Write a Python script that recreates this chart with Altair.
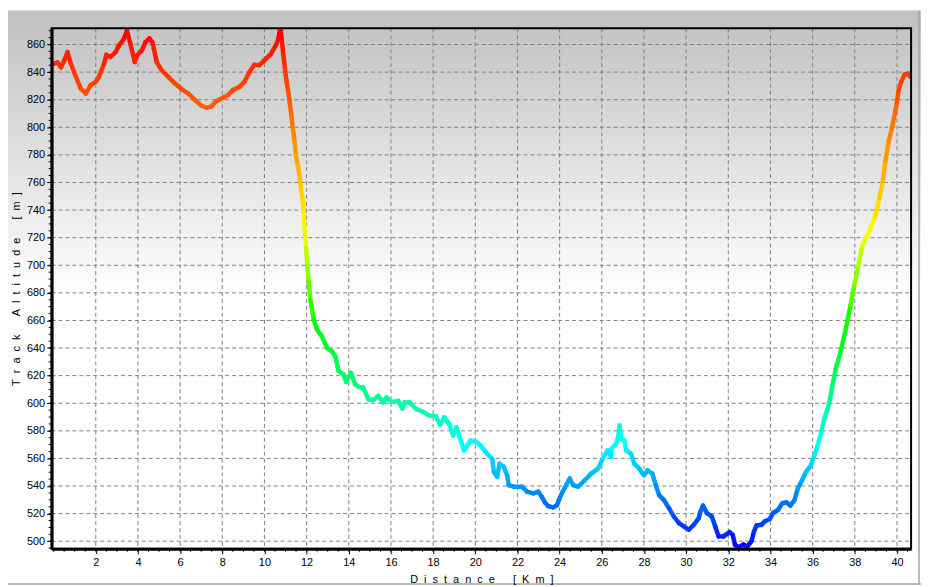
import altair as alt
import pandas as pd

# ---- data ----
distance_km = [0.00,0.19,0.35,0.51,0.66,0.82,1.06,1.29,1.53,1.76,2.00,2.15,2.39,2.50,2.70,2.94,3.09,3.33,3.48,3.64,
    3.85,3.95,4.19,4.35,4.54,4.69,4.89,5.13,5.44,5.76,6.07,6.38,6.70,7.01,7.25,7.48,7.72,8.03,8.27,8.50,
    8.82,9.05,9.29,9.52,9.76,9.99,10.30,10.54,10.66,10.76,10.83,10.90,10.97,11.04,11.13,11.20,11.27,11.35,11.43,11.49,
    11.59,11.68,11.74,11.82,11.86,11.91,11.98,12.03,12.10,12.18,12.34,12.50,12.73,12.97,13.20,13.36,13.52,13.75,13.88,14.10,
    14.30,14.46,14.69,14.93,15.16,15.40,15.63,15.79,16.02,16.34,16.54,16.65,16.88,17.20,17.51,17.82,18.14,18.33,18.53,18.76,
    18.95,19.11,19.23,19.47,19.63,19.78,20.02,20.25,20.49,20.80,20.88,21.04,21.15,21.35,21.51,21.59,21.82,22.21,22.45,22.76,
    22.99,23.15,23.31,23.45,23.69,23.87,24.01,24.15,24.29,24.48,24.64,24.88,25.19,25.50,25.82,26.05,26.28,26.44,26.47,26.68,
    26.76,26.84,26.92,27.07,27.15,27.39,27.54,27.78,27.93,28.01,28.17,28.40,28.56,28.72,28.95,29.19,29.42,29.66,29.89,30.13,
    30.36,30.60,30.68,30.80,30.99,31.22,31.38,31.54,31.77,32.06,32.21,32.32,32.48,32.71,32.90,33.10,33.22,33.34,33.57,33.73,
    33.97,34.12,34.36,34.56,34.75,34.94,35.14,35.30,35.50,35.69,35.92,36.08,36.24,36.39,36.55,36.71,36.82,36.95,37.09,37.33,
    37.56,37.80,37.98,38.17,38.36,38.59,38.73,38.97,39.17,39.33,39.45,39.61,39.76,39.92,40.00,40.08,40.20,40.36,40.55,40.63]

altitude_m = [846,847,843.5,848.5,854.5,846,836.5,828,824.5,830.5,833,836.5,846,852.5,851,854.5,859,864,870,860.5,
    847.3,852,855.7,861.6,864.5,861.6,847.3,841.3,836.5,831.7,827.7,824.5,819.8,815.7,814.2,815,819,821.4,823.3,827,
    829.3,833,840,845.3,845,848.5,853,859.3,864,873,862,852,843,834,826,818,809,799,790,780,
    772,763,754,747,738,725,712,700,688,675,660.4,653.2,648.4,640,637.6,634,623.3,620.9,615.4,622.1,
    613.7,612,611.3,602.9,602.4,605.3,600.6,604.2,601,601.7,596.3,600.6,600.6,595.8,593.8,591,590.5,584.3,589.8,585,
    576.6,582.6,576.6,565.8,569.4,573,572.3,569.4,564.6,559.8,550.3,546.7,556.2,553.9,547.8,540.6,539.5,539.5,535.9,534.7,
    535.9,532.3,528,525.5,524.5,526,531.6,536,540,545.5,540.6,539.5,544.2,549,552.6,560,565.8,561,567,570.6,
    574.2,583.8,574.2,573,565.8,563.4,556.2,552.6,549,547.8,551.4,549,540.6,533.4,529.8,523.9,517.9,513.1,510.7,508.3,
    511.9,516.7,521.5,525.8,520.3,517.9,510.7,503.5,503.5,506.6,504.6,497.5,495.6,497.5,496.3,500,507.1,511.4,511.9,514.3,
    516.2,520.3,522.7,527.5,528.2,525.8,529.8,538.3,544.2,550.3,555,562.2,569.4,577.8,588.6,595.8,602.9,613.7,624.5,637.4,
    653,671,685.6,700,714.4,721.6,726,736,749,761,775.4,789.8,799.3,811.3,818.5,826.9,832.9,838.2,838.9,836.5]

x_ticks = list(range(2, 41, 2))
y_ticks = list(range(500, 861, 20))
x_minor = [i * 0.5 for i in range(0, 82)]
y_minor = list(range(495, 871, 5))

color_stops = [497, 570, 655, 725, 870]
color_range = ["#0008ff", "#00ffff", "#00ff00", "#ffff00", "#ff0000"]

W, H = 867, 525
FONT = "Liberation Sans"
NB = "\u00a0"

def spaced(words, gap=6, letter_gap=2):
    return (NB * gap).join((NB * letter_gap).join(list(w)) for w in words)

x_title = spaced(["Distance", "[Km]"])
y_title = spaced(["Track", "Altitude", "[m]"])

seg = pd.DataFrame({
    "d0": distance_km[:-1], "d1": distance_km[1:],
    "a0": altitude_m[:-1], "a1": altitude_m[1:],
})
seg["c"] = (seg["a0"] + seg["a1"]) / 2

xscale = alt.Scale(domain=[-0.094, 40.67], nice=False, zero=False)
yscale = alt.Scale(domain=[494.5, 871.7], nice=False, zero=False)

xaxis = alt.Axis(values=x_ticks, grid=False, domainColor="black", domainWidth=3,
                 tickColor="black", tickSize=5, tickWidth=1, labelFont=FONT, labelFontSize=11,
                 labelColor="black", labelPadding=3, labelFlush=False, labelOverlap=False,
                 title=x_title, titleFont=FONT, titleFontSize=11, titleFontWeight="normal",
                 titleColor="black", titlePadding=6, zindex=1)
yaxis = alt.Axis(values=y_ticks, grid=False, domainColor="black", domainWidth=3,
                 tickColor="black", tickSize=5, tickWidth=1, labelFont=FONT, labelFontSize=11,
                 labelColor="black", labelPadding=2, labelFlush=False, labelOverlap=False,
                 title=y_title, titleFont=FONT, titleFontSize=11, titleFontWeight="normal",
                 titleColor="black", titlePadding=5, zindex=1)

one = alt.Data(values=[{"k": 0}])

bg = alt.Chart(one).mark_rect(
    fill=alt.LinearGradient(gradient="linear", x1=0, x2=0, y1=0, y2=1, stops=[
        alt.GradientStop(offset=0, color="#c2c2c2"),
        alt.GradientStop(offset=0.031, color="#c4c4c4"),
        alt.GradientStop(offset=0.50, color="#ffffff"),
        alt.GradientStop(offset=1, color="#ffffff"),
    ])
).encode(x=alt.value(-44), x2=alt.value(W + 10), y=alt.value(-18), y2=alt.value(H + 36))

frame_b = alt.Chart(one).mark_rule(color="#a4a494", strokeWidth=1.5).encode(
    x=alt.value(-44), x2=alt.value(W + 10), y=alt.value(H + 35.5))
frame_r = alt.Chart(one).mark_rule(color="#a4a494", strokeWidth=1.5).encode(
    x=alt.value(W + 8), y=alt.value(-18), y2=alt.value(H + 36))

gridx = alt.Chart(pd.DataFrame({"gx": x_ticks})).mark_rule(
    color="#808080", strokeWidth=1, strokeDash=[4, 3]).encode(
    x=alt.X("gx:Q", scale=xscale, axis=xaxis), y=alt.value(0), y2=alt.value(H))
gridy = alt.Chart(pd.DataFrame({"gy": y_ticks})).mark_rule(
    color="#808080", strokeWidth=1, strokeDash=[4, 3]).encode(
    y=alt.Y("gy:Q", scale=yscale, axis=yaxis), x=alt.value(0), x2=alt.value(W))

minx = alt.Chart(pd.DataFrame({"mx": x_minor})).mark_rule(color="black", strokeWidth=1).encode(
    x=alt.X("mx:Q", scale=xscale, axis=xaxis), y=alt.value(H), y2=alt.value(H + 3))
miny = alt.Chart(pd.DataFrame({"my": y_minor})).mark_rule(color="black", strokeWidth=1).encode(
    y=alt.Y("my:Q", scale=yscale, axis=yaxis), x=alt.value(-3), x2=alt.value(0))

line = alt.Chart(seg).mark_rule(strokeWidth=4.5, strokeCap="round", clip=True).encode(
    x=alt.X("d0:Q", scale=xscale, axis=xaxis), x2="d1:Q",
    y=alt.Y("a0:Q", scale=yscale, axis=yaxis), y2="a1:Q",
    color=alt.Color("c:Q", scale=alt.Scale(domain=color_stops, range=color_range,
                                           interpolate="rgb"), legend=None),
)

border = alt.Chart(one).mark_rect(fillOpacity=0, stroke="black", strokeWidth=2).encode(
    x=alt.value(0), x2=alt.value(W), y=alt.value(0), y2=alt.value(H))

chart = alt.layer(bg, frame_b, frame_r, gridx, gridy, minx, miny, line, border).properties(
    width=W, height=H,
    autosize=alt.AutoSizeParams(type="none"),
    padding={"left": 44, "top": 18, "right": 10, "bottom": 36},
    background="white",
).configure_view(stroke=None)

chart.save("out.html", embed_options={"renderer": "svg", "actions": False})
